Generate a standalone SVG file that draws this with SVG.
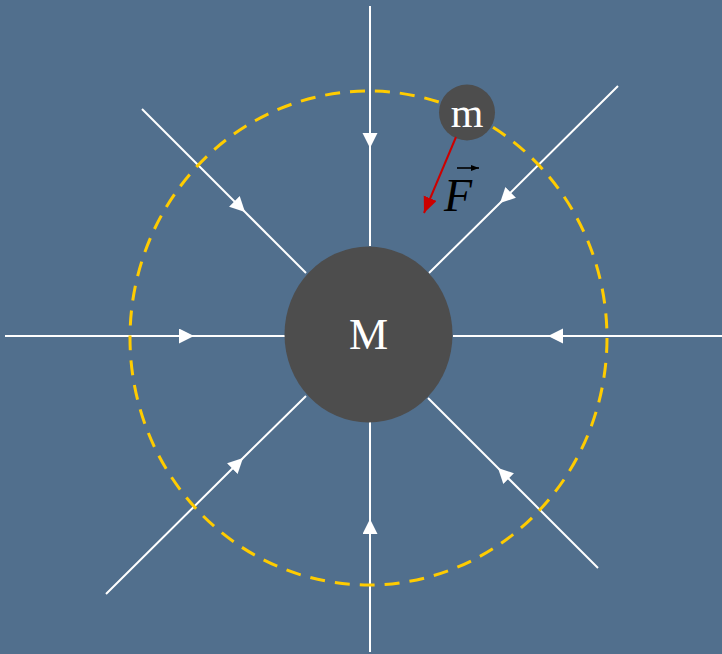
<svg xmlns="http://www.w3.org/2000/svg" width="722" height="654" viewBox="0 0 722 654">
<defs>
<marker id="ah" markerUnits="userSpaceOnUse" markerWidth="16" markerHeight="16" refX="15" refY="7.5" orient="auto">
<path d="M0,0 L15,7.5 L0,15 z" fill="#ffffff"/>
</marker>
<marker id="ahr" markerUnits="userSpaceOnUse" markerWidth="18" markerHeight="16" refX="16" refY="7" orient="auto">
<path d="M0,0 L16,7 L0,14 z" fill="#cc0000"/>
</marker>
<marker id="ahs" markerUnits="userSpaceOnUse" markerWidth="10" markerHeight="8" refX="8" refY="3" orient="auto">
<path d="M0,0 L8,3 L0,6 z" fill="#000000"/>
</marker>
</defs>
<style>
.field{stroke:#ffffff;stroke-width:2;fill:none;marker-mid:url(#ah)}
.node{fill:#4d4d4d}
.lbl{font-family:"Liberation Serif","Times New Roman",serif;fill:#ffffff;text-anchor:middle}
</style>
<rect x="0" y="0" width="722" height="654" fill="#516f8d"/>
<g id="connectors">
<path class="field" d="M370,6 L370,148 L370,246"/>
<path class="field" d="M370,652 L370,519 L370,422"/>
<path class="field" d="M5,336 L194,336 L285,336"/>
<path class="field" d="M722,336 L548,336 L453,336"/>
<path class="field" d="M142,109 L245,212 L306,273"/>
<path class="field" d="M618,86 L500,203 L429,273"/>
<path class="field" d="M106,594 L243,458 L306,396"/>
<path class="field" d="M598,568 L498,468 L428,398"/>
</g>
<g id="orbit">
<ellipse cx="368.5" cy="338" rx="238.5" ry="247" fill="none" stroke="#ffcc00" stroke-width="3" stroke-dasharray="15,10"/>
</g>
<g id="M">
<ellipse class="node" cx="368.5" cy="334.5" rx="84" ry="88"/>
<text class="lbl" x="368.5" y="349" font-size="44">M</text>
</g>
<g id="m">
<circle class="node" cx="467" cy="112.5" r="28"/>
<text class="lbl" x="467" y="127" font-size="42">m</text>
</g>
<g id="force">
<line x1="456" y1="137" x2="424" y2="213" stroke="#cc0000" stroke-width="2" marker-end="url(#ahr)"/>
<text x="444" y="211" font-family="Liberation Serif,'Times New Roman',serif" font-style="italic" font-size="46" fill="#000000">F</text>
<line x1="457" y1="168" x2="479" y2="168" stroke="#000000" stroke-width="1.6" marker-end="url(#ahs)"/>
</g>
</svg>
